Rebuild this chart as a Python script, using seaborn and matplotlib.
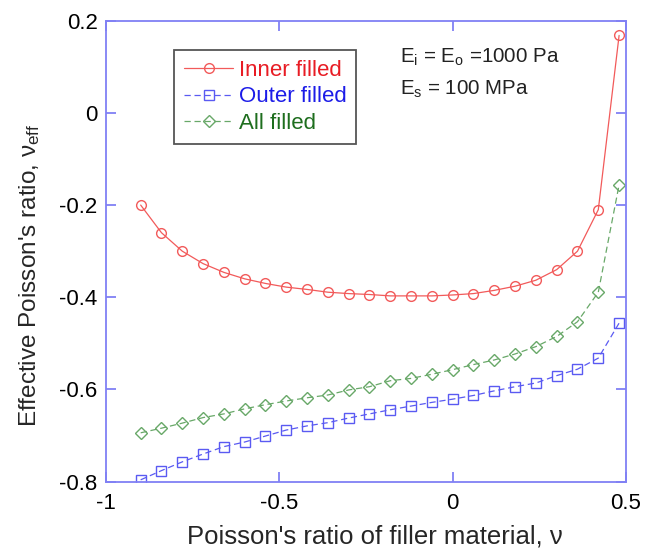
import numpy as np
import pandas as pd
import matplotlib
matplotlib.use("Agg")
import matplotlib.pyplot as plt
import seaborn as sns

# ---- data ----
nu = [-0.90, -0.84, -0.78, -0.72, -0.66, -0.60, -0.54, -0.48, -0.42, -0.36, -0.30, -0.24,
      -0.18, -0.12, -0.06, 0.00, 0.06, 0.12, 0.18, 0.24, 0.30, 0.36, 0.42, 0.48]
inner_filled = [-0.200, -0.260, -0.300, -0.327, -0.346, -0.360, -0.370, -0.378, -0.383, -0.389, -0.392, -0.394,
                -0.397, -0.397, -0.397, -0.395, -0.392, -0.385, -0.376, -0.363, -0.340, -0.300, -0.210, 0.168]
outer_filled = [-0.796, -0.776, -0.757, -0.740, -0.724, -0.714, -0.701, -0.688, -0.679, -0.672, -0.662, -0.653,
                -0.644, -0.636, -0.628, -0.621, -0.613, -0.603, -0.594, -0.586, -0.570, -0.556, -0.532, -0.456]
all_filled = [-0.694, -0.684, -0.673, -0.661, -0.653, -0.642, -0.633, -0.625, -0.618, -0.612, -0.601, -0.594,
              -0.581, -0.576, -0.567, -0.557, -0.546, -0.536, -0.523, -0.507, -0.485, -0.453, -0.389, -0.156]
series_labels = ["Inner filled", "Outer filled", "All filled"]
x_ticks = [-1, -0.5, 0, 0.5]
x_ticklabels = ["-1", "-0.5", "0", "0.5"]
y_ticks = [-0.8, -0.6, -0.4, -0.2, 0, 0.2]
y_ticklabels = ["-0.8", "-0.6", "-0.4", "-0.2", "0", "0.2"]

sns.set_theme(style="white")
plt.rcParams["font.family"] = ["Liberation Sans", "DejaVu Sans"]
plt.rcParams["mathtext.fontset"] = "custom"
plt.rcParams["mathtext.rm"] = "Liberation Sans"
plt.rcParams["mathtext.it"] = "Liberation Sans"

fig = plt.figure(figsize=(6.48, 5.53), dpi=100)
ax = fig.add_axes([0.1636, 0.129, 0.8025, 0.8336])

df = pd.DataFrame({"nu": nu, "inner": inner_filled, "outer": outer_filled, "all": all_filled})

line_cols = ["#f25a5a", "#5a5af2", "#68a868"]
text_cols = ["#e81c24", "#1c1ce8", "#1e6e1e"]

sns.lineplot(data=df, x="nu", y="inner", ax=ax, color=line_cols[0], lw=0.9,
             marker="o", markersize=7, markerfacecolor="none", markeredgecolor=line_cols[0],
             markeredgewidth=1.0, label=series_labels[0])
sns.lineplot(data=df, x="nu", y="outer", ax=ax, color=line_cols[1], lw=0.9,
             marker="s", markersize=7.5, markerfacecolor="none", markeredgecolor=line_cols[1],
             markeredgewidth=1.0, dashes=(5, 3), label=series_labels[1])
sns.lineplot(data=df, x="nu", y="all", ax=ax, color=line_cols[2], lw=0.9,
             marker="D", markersize=6, markerfacecolor="none", markeredgecolor=line_cols[2],
             markeredgewidth=1.0, dashes=(5, 3), label=series_labels[2])

ax.set_xlim(-1, 0.5)
ax.set_ylim(-0.8, 0.2)
ax.set_xticks(x_ticks)
ax.set_xticklabels(x_ticklabels)
ax.set_yticks(y_ticks)
ax.set_yticklabels(y_ticklabels)

spine_col = "#8080f4"
for s in ax.spines.values():
    s.set_visible(True)
    s.set_color(spine_col)
    s.set_linewidth(1.3)
ax.tick_params(axis="both", which="major", direction="in", length=7, width=1.3,
               color=spine_col, labelcolor="black", labelsize=16,
               top=True, right=True, bottom=True, left=True)
ax.tick_params(axis="x", pad=8)
ax.tick_params(axis="y", pad=6)

ax.set_xlabel("Poisson's ratio of filler material, ν", fontsize=18.5)
ax.set_ylabel("Effective Poisson's ratio, ν$_{\\rm eff}$", fontsize=17.5)
ax.xaxis.set_label_coords(0.517, -0.092)
ax.yaxis.set_label_coords(-0.123, 0.448)

leg = ax.legend(loc="upper left", bbox_to_anchor=(0.131, 0.937), fontsize=16,
                frameon=True, fancybox=False, edgecolor="#555555", framealpha=1,
                handlelength=2.2, handletextpad=0.25, borderpad=0.45, labelspacing=0.25,
                borderaxespad=0)
leg.get_frame().set_linewidth(1.3)
for t, c in zip(leg.get_texts(), text_cols):
    t.set_color(c)

ax.text(0.565, 0.921, "E$_{\\rm i}$ = E$_{\\rm o}$ =1000 Pa", transform=ax.transAxes,
        fontsize=14.8, va="center", ha="left", color="#222222")
ax.text(0.565, 0.850, "E$_{\\rm s}$ = 100 MPa", transform=ax.transAxes,
        fontsize=14.8, va="center", ha="left", color="#222222")

fig.savefig("out.png", dpi=100)
